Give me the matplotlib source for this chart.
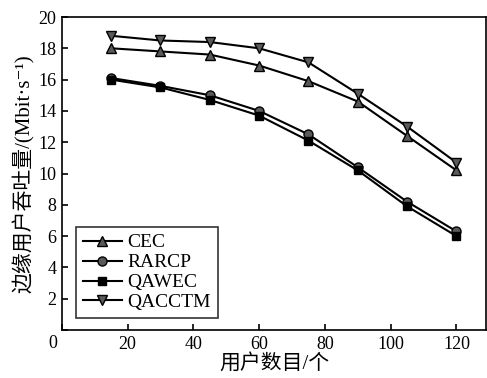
import matplotlib.pyplot as plt

plt.rcParams['font.family'] = ['Liberation Serif', 'Noto Sans CJK SC', 'DejaVu Serif']

# 数据
users = [15, 30, 45, 60, 75, 90, 105, 120]
cec = [18.0, 17.8, 17.6, 16.9, 15.9, 14.6, 12.4, 10.2]
rarcp = [16.1, 15.6, 15.0, 14.0, 12.5, 10.4, 8.2, 6.3]
qawec = [16.0, 15.5, 14.7, 13.7, 12.1, 10.2, 7.9, 6.0]
qacctm = [18.8, 18.5, 18.4, 18.0, 17.1, 15.1, 13.0, 10.7]

fig = plt.figure(figsize=(4.87, 3.78), dpi=100)
ax = fig.add_axes([0.127, 0.127, 0.871, 0.828])

gray = '#5a5a5a'
ax.plot(users, cec, '-^', color='k', mfc=gray, mec='k', ms=7.5, lw=1.5, label='CEC')
ax.plot(users, rarcp, '-o', color='k', mfc=gray, mec='k', ms=6.5, lw=1.5, label='RARCP')
ax.plot(users, qawec, '-s', color='k', mfc='k', mec='k', ms=6, lw=1.5, label='QAWEC')
ax.plot(users, qacctm, '-v', color='k', mfc=gray, mec='k', ms=7.5, lw=1.5, label='QACCTM')

ax.set_xlim(0, 129)
ax.set_ylim(0, 20)
ax.set_xticks(range(0, 121, 20))
ax.set_xticklabels([''] + [str(v) for v in range(20, 121, 20)])
ax.set_yticks(range(0, 21, 2))
ax.set_yticklabels([''] + [str(v) for v in range(2, 21, 2)])
ax.text(-1.5, -0.35, '0', ha='right', va='top', fontsize=13)
ax.tick_params(direction='in', length=4, width=1.2, labelsize=13, pad=4)
for s in ax.spines.values():
    s.set_linewidth(1.2)

ax.set_xlabel('用户数目/个', fontsize=15, labelpad=1)
ax.set_ylabel('边缘用户吞吐量/(Mbit·s⁻¹)', fontsize=15, labelpad=2)

leg = ax.legend(loc='lower left', bbox_to_anchor=(0.033, 0.038), fontsize=14,
                frameon=True, fancybox=False, edgecolor='k', handlelength=2.0,
                handletextpad=0.3, borderpad=0.35, labelspacing=0.12, borderaxespad=0)
leg.get_frame().set_linewidth(1.2)

fig.savefig('out.png', dpi=100)
